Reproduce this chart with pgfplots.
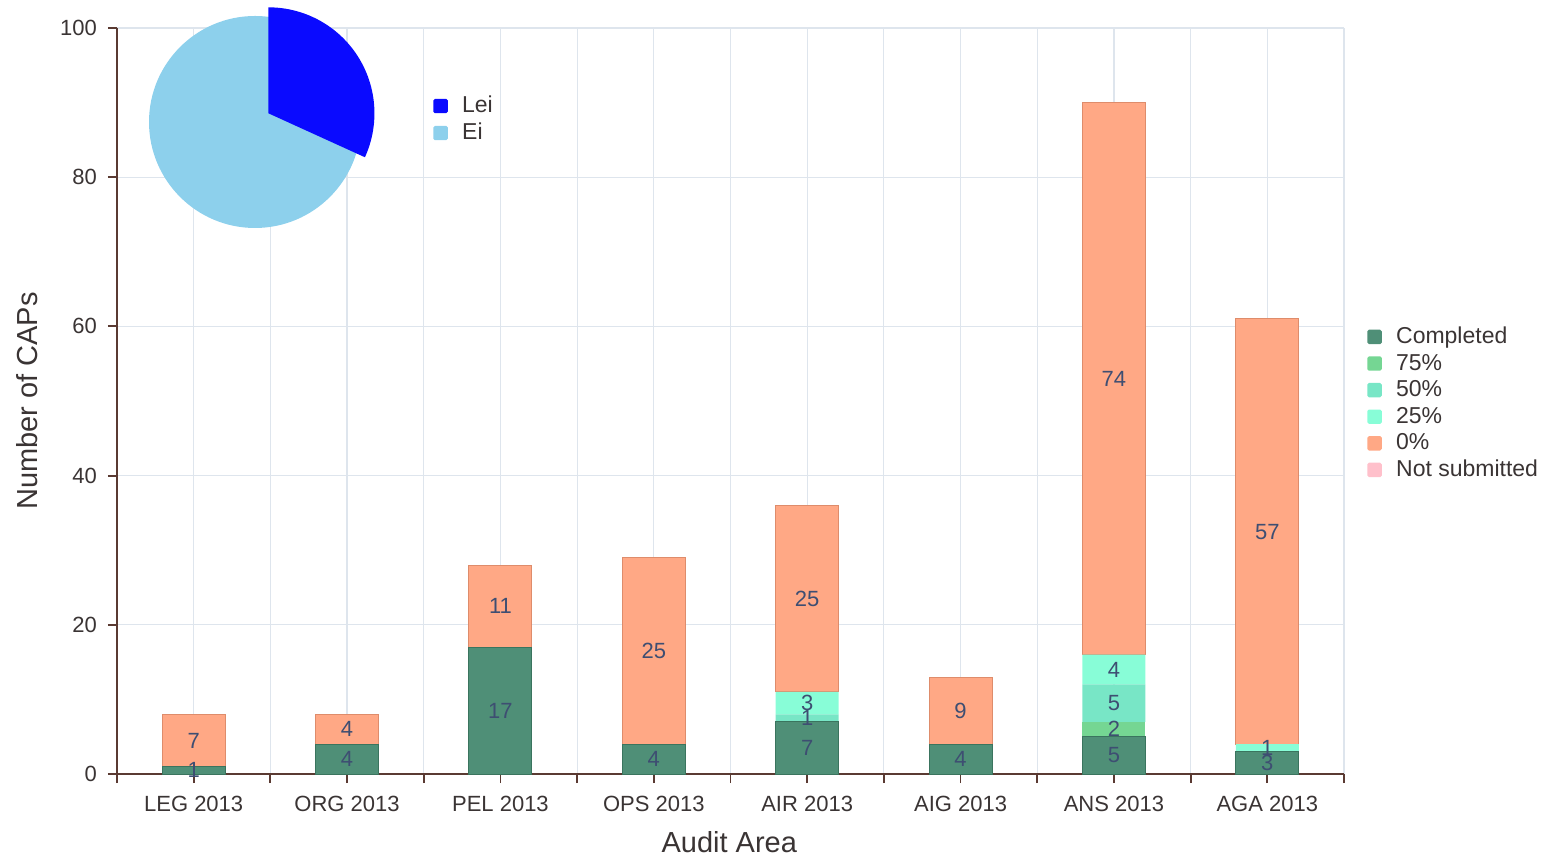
\documentclass[border=0pt]{standalone}
\usepackage{fontspec}
\setmainfont{Liberation Sans}
\usepackage{pgfplots}
\usepackage{pgfplotstable}
\pgfplotsset{compat=1.18}

\definecolor{cComp}{HTML}{4F8F77}
\definecolor{cCompE}{HTML}{3A745E}
\definecolor{c75}{HTML}{75D693}
\definecolor{c50}{HTML}{78E6C6}
\definecolor{c25}{HTML}{88FDD7}
\definecolor{c0}{HTML}{FFA885}
\definecolor{c0E}{HTML}{DE8C6B}
\definecolor{cNS}{HTML}{FFC0CB}
\definecolor{cLei}{HTML}{0A0AFF}
\definecolor{cEi}{HTML}{8DD0EC}
\definecolor{gridc}{HTML}{DEE5ED}
\definecolor{axisc}{HTML}{5A3A32}
\definecolor{txt}{HTML}{3A3434}
\definecolor{lbl}{HTML}{3E4E72}

% CAPs per audit area, by status
\pgfplotstableread{
x comp p75 p50 p25 p0
0 1 0 0 0 7
1 4 0 0 0 4
2 17 0 0 0 11
3 4 0 0 0 25
4 7 0 1 3 25
5 4 0 0 0 9
6 5 2 5 4 74
7 3 0 0 1 57
}\capdata

% pie shares
\def\Lei{31.8}
\def\Ei{68.2}

\pgfplotsset{
  legsq/.style={legend image code/.code={
      \fill[##1, draw=none, rounded corners=0.8pt] (0pt,-3.6pt) rectangle (7.2pt,3.6pt);
      \path (14.2pt,0pt);}},
}

\begin{document}
\begin{tikzpicture}
\useasboundingbox (-58.5pt,-41.5pt) rectangle (719.5pt,387pt);

\begin{axis}[
  at={(0,0)}, anchor=south west,
  scale only axis, width=613.5pt, height=373pt,
  ybar stacked, bar width=31.5pt,
  xmin=-0.5, xmax=7.5, ymin=0, ymax=100,
  xtick={0,...,7},
  xticklabels={LEG 2013, ORG 2013, PEL 2013, OPS 2013, AIR 2013, AIG 2013, ANS 2013, AGA 2013},
  minor xtick={-0.5,0.5,...,7.5},
  ytick={0,20,...,100},
  grid=both,
  major grid style={gridc, line width=0.6pt},
  minor grid style={gridc, line width=0.6pt},
  axis lines=left,
  axis line style={-, axisc, line width=1pt},
  tick style={axisc, line width=0.9pt},
  major tick length=4.5pt, minor tick length=4.5pt,
  tick align=outside,
  ticklabel style={font=\fontsize{11}{13}\selectfont, text=txt},
  yticklabel style={xshift=-2pt},
  xticklabel style={yshift=-3pt},
  /pgf/number format/assume math mode=true,
  xlabel={Audit Area}, ylabel={Number of CAPs},
  every axis y label/.style={at={(axis description cs:-0.0733,0.5)}, rotate=90, anchor=center,
    font=\fontsize{14.5}{17}\selectfont, text=txt},
  every axis x label/.style={at={(axis description cs:0.499,-0.0912)}, anchor=center,
    font=\fontsize{14.5}{17}\selectfont, text=txt},
  legend style={at={(rel axis cs:1.0187,0.6005)}, anchor=north west,
    draw=none, fill=none, inner sep=0pt,
    font=\fontsize{11.5}{13}\selectfont, text=txt,
    nodes={inner sep=0pt, text height=8.5pt, text depth=2pt},
    row sep=2.8pt},
  legend cell align=left,
  legsq,
  visualization depends on=rawy \as \rawy,
  nodes near coords={\ifdim\rawy pt>0pt\pgfmathprintnumber{\rawy}\fi},
  every node near coord/.append style={anchor=center, text=lbl,
    font=\fontsize{11}{13}\selectfont},
]
\addplot[forget plot, fill=cComp, draw=cCompE, line width=0.5pt] table[x=x, y=comp] {\capdata};
\addplot[forget plot, fill=c75, draw=none] table[x=x, y=p75] {\capdata};
\addplot[forget plot, fill=c50, draw=none] table[x=x, y=p50] {\capdata};
\addplot[forget plot, fill=c25, draw=none] table[x=x, y=p25] {\capdata};
\addplot[forget plot, fill=c0, draw=c0E, line width=0.5pt] table[x=x, y=p0] {\capdata};

\addlegendimage{fill=cComp}\addlegendentry{Completed}
\addlegendimage{fill=c75}\addlegendentry{75\%}
\addlegendimage{fill=c50}\addlegendentry{50\%}
\addlegendimage{fill=c25}\addlegendentry{25\%}
\addlegendimage{fill=c0}\addlegendentry{0\%}
\addlegendimage{fill=cNS}\addlegendentry{Not submitted}
\end{axis}

% pie in pixel-like units
\begin{axis}[
  at={(0,0)}, anchor=south west,
  scale only axis, width=613.5pt, height=373pt,
  hide axis, clip=false,
  xmin=0, xmax=1227, ymin=0, ymax=746,
  legend style={at={(rel axis cs:0.2575,0.910)}, anchor=north west,
    draw=none, fill=none, inner sep=0pt,
    font=\fontsize{11.5}{13}\selectfont, text=txt,
    nodes={inner sep=0pt, text height=8.5pt, text depth=2pt},
    row sep=3pt},
  legend cell align=left,
  legsq,
]
\pgfmathsetmacro\angLei{360*\Lei/(\Lei+\Ei)}
\pgfmathsetmacro\endLei{90-\angLei}
\pgfmathsetmacro\midLei{90-\angLei/2}
\fill[cEi] (axis cs:138,652) -- ++(90:53pt) arc[start angle=90, end angle=\endLei-360, radius=53pt] -- cycle;
\fill[cLei] (axis cs:138,652) ++(\midLei:8pt) -- ++(90:53pt) arc[start angle=90, end angle=\endLei, radius=53pt] -- cycle;
\addlegendimage{fill=cLei}\addlegendentry{Lei}
\addlegendimage{fill=cEi}\addlegendentry{Ei}
\end{axis}
\end{tikzpicture}
\end{document}
